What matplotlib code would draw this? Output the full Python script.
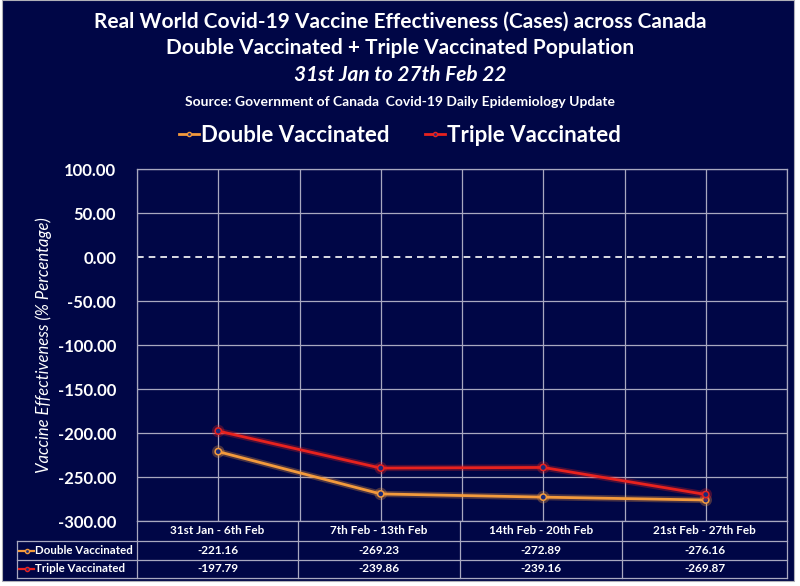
import matplotlib
matplotlib.use("Agg")
import matplotlib.pyplot as plt
import matplotlib.patheffects as pe
from matplotlib.patches import Rectangle
from matplotlib.lines import Line2D

# Data
periods = ["31st Jan - 6th Feb", "7th Feb - 13th Feb", "14th Feb - 20th Feb", "21st Feb - 27th Feb"]
double_vax = [-221.16, -269.23, -272.89, -276.16]
triple_vax = [-197.79, -239.86, -239.16, -269.87]
series_names = ["Double Vaccinated", "Triple Vaccinated"]
y_ticks = [100, 50, 0, -50, -100, -150, -200, -250, -300]

NAVY = "#000646"
ORANGE = "#F39A3C"
RED = "#E8221E"
GRID = "#A8A8C0"
FONT = "Lato"

W, H = 800, 586
fig = plt.figure(figsize=(W / 100, H / 100), dpi=100, facecolor="white")

def fx(px):
    return px / W

def fy(py):
    return 1 - py / H

# navy chart background
fig.patches.append(Rectangle((fx(2), fy(581)), fx(792), 581 / H, transform=fig.transFigure,
                             facecolor=NAVY, edgecolor="#B0B0B8", lw=0.8, zorder=-5))

# Titles
fig.text(0.5, fy(22), "Real World Covid-19 Vaccine Effectiveness (Cases) across Canada",
         ha="center", va="center", color="white", fontsize=15, fontweight="bold", family=FONT)
fig.text(0.5, fy(48), "Double Vaccinated + Triple Vaccinated Population",
         ha="center", va="center", color="white", fontsize=15, fontweight="bold", family=FONT)
fig.text(0.5, fy(75), "31st Jan to 27th Feb 22",
         ha="center", va="center", color="white", fontsize=15, fontweight="bold",
         style="italic", family=FONT)
fig.text(0.5, fy(102), "Source: Government of Canada  Covid-19 Daily Epidemiology Update",
         ha="center", va="center", color="white", fontsize=10, fontweight="bold", family=FONT)

# Plot area
left, right, top, bottom = 137, 787, 169, 521
ax = fig.add_axes([fx(left), fy(bottom), fx(right - left), (bottom - top) / H])
ax.set_facecolor(NAVY)
x = list(range(len(periods)))
ax.set_xlim(-0.5, len(periods) - 0.5)
ax.set_ylim(-300, 100)
ax.set_yticks(y_ticks)
ax.set_yticklabels([f"{v:.2f}" for v in y_ticks], color="white", fontsize=12,
                   fontweight="bold", family=FONT)
ax.tick_params(axis="y", length=0, pad=15)
ax.set_xticks([i - 0.5 for i in range(len(periods) + 1)] + x)
ax.set_xticklabels([])
ax.tick_params(axis="x", length=0)
ax.grid(True, color=GRID, lw=0.9)
for sp in ax.spines.values():
    sp.set_color(GRID)
    sp.set_linewidth(0.9)
# hide horizontal gridline at 0 and draw dashed line
for gl, v in zip(ax.get_ygridlines(), y_ticks):
    if v == 0:
        gl.set_visible(False)
ax.axhline(0, color="white", lw=1.2, ls=(0, (4, 3)), zorder=2)
ax.set_ylabel("Vaccine Effectiveness (% Percentage)", color="white", fontsize=12,
              style="italic", family=FONT, labelpad=4)

for vals, col in [(double_vax, ORANGE), (triple_vax, RED)]:
    ax.plot(x, vals, color=col, lw=2.0, zorder=4,
             marker="o", markersize=4.5, markerfacecolor="#1A2A7A", markeredgecolor=col,
             markeredgewidth=1.1,
             path_effects=[pe.Stroke(linewidth=4.5, foreground=col, alpha=0.3), pe.Normal()])

# Legend on top
handles = [Line2D([0], [0], color=c, lw=2, marker="o", markersize=3,
                  markerfacecolor="#1A2A7A", markeredgecolor=c) for c in (ORANGE, RED)]
fig.legend(handles, series_names, loc="center", bbox_to_anchor=(0.5, fy(135)), ncol=2,
           frameon=False, prop={"family": FONT, "size": 16, "weight": "bold"},
           labelcolor="white", handlelength=0.9, handletextpad=0.1, columnspacing=1.6)

# Data table below the plot
col_edges = [137, 298, 460, 622, 787]
row_edges = [521, 541, 560, 578]
tab_left = 17
line_kw = dict(color=GRID, lw=0.9, transform=fig.transFigure)
for ry in row_edges[1:]:
    fig.add_artist(Line2D([fx(tab_left), fx(col_edges[-1])], [fy(ry), fy(ry)], **line_kw))
for cx in col_edges:
    fig.add_artist(Line2D([fx(cx), fx(cx)], [fy(row_edges[0]), fy(row_edges[-1])], **line_kw))
fig.add_artist(Line2D([fx(tab_left), fx(tab_left)], [fy(row_edges[1]), fy(row_edges[-1])], **line_kw))

for i, p in enumerate(periods):
    cx = (col_edges[i] + col_edges[i + 1]) / 2
    fig.text(fx(cx), fy((row_edges[0] + row_edges[1]) / 2), p, ha="center", va="center",
             color="white", fontsize=8.5, fontweight="bold", family=FONT)
for r, (vals, col, name) in enumerate([(double_vax, ORANGE, series_names[0]),
                                        (triple_vax, RED, series_names[1])]):
    cy = (row_edges[r + 1] + row_edges[r + 2]) / 2
    fig.add_artist(Line2D([fx(19), fx(34)], [fy(cy), fy(cy)], color=col, lw=1.6,
                          transform=fig.transFigure))
    fig.add_artist(Line2D([fx(27)], [fy(cy)], marker="o", markersize=3, color=col,
                          markerfacecolor="#1A2A7A", transform=fig.transFigure))
    fig.text(fx(35), fy(cy), name, ha="left", va="center", color="white", fontsize=8.3,
             fontweight="bold", family=FONT)
    for i, v in enumerate(vals):
        cx = (col_edges[i] + col_edges[i + 1]) / 2
        fig.text(fx(cx), fy(cy), f"{v:.2f}", ha="center", va="center", color="white",
                 fontsize=8.5, fontweight="bold", family=FONT)

fig.savefig("out.png", dpi=100, facecolor="white")
